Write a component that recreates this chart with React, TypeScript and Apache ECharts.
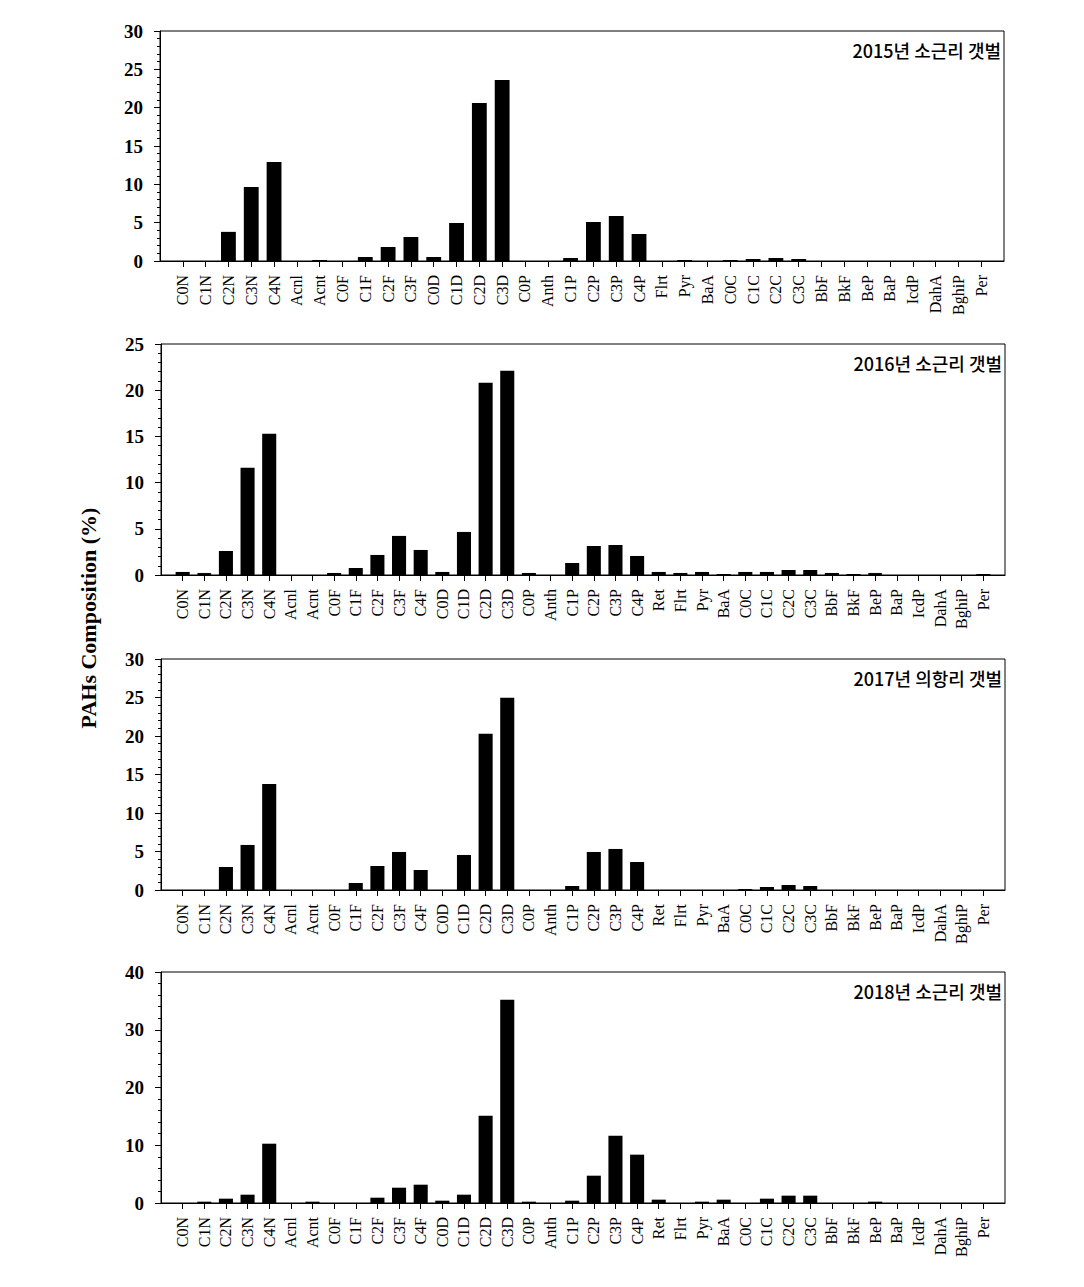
import React, { useEffect, useRef } from "react";
import * as echarts from "echarts";

const cats2015 = ["C0N","C1N","C2N","C3N","C4N","Acnl","Acnt","C0F","C1F","C2F","C3F","C0D","C1D","C2D","C3D","C0P","Anth","C1P","C2P","C3P","C4P","Flrt","Pyr","BaA","C0C","C1C","C2C","C3C","BbF","BkF","BeP","BaP","IcdP","DahA","BghiP","Per"];
const catsFull = ["C0N","C1N","C2N","C3N","C4N","Acnl","Acnt","C0F","C1F","C2F","C3F","C4F","C0D","C1D","C2D","C3D","C0P","Anth","C1P","C2P","C3P","C4P","Ret","Flrt","Pyr","BaA","C0C","C1C","C2C","C3C","BbF","BkF","BeP","BaP","IcdP","DahA","BghiP","Per"];

const values2015 = [0,0,3.8,9.65,12.9, 0,0.13, 0,0.52,1.83,3.13, 0.52,4.96,20.6,23.6, 0,0,0.39,5.09,5.87,3.52, 0,0.13,0, 0.13,0.26,0.39,0.26, 0,0,0,0, 0,0,0,0];
const values2016 = [0.33,0.22,2.6,11.6,15.28, 0,0, 0.22,0.76,2.17,4.23,2.71, 0.33,4.66,20.8,22.1, 0.22,0,1.3,3.14,3.25,2.06, 0.33,0.22,0.33,0.11, 0.33,0.33,0.54,0.54, 0.22,0.11,0.22,0, 0,0,0,0.11];
const values2017 = [0,0,2.99,5.85,13.78, 0,0, 0,0.91,3.12,4.94,2.6, 0,4.55,20.29,24.97, 0,0,0.52,4.94,5.33,3.64, 0,0,0,0, 0.13,0.39,0.65,0.52, 0,0,0,0, 0,0,0,0];
const values2018 = [0,0.23,0.75,1.44,10.27, 0,0.23, 0,0,0.92,2.65,3.17, 0.4,1.44,15.1,35.2, 0.23,0,0.4,4.73,11.66,8.37, 0.58,0,0.23,0.58, 0,0.75,1.27,1.27, 0,0,0.23,0, 0,0,0,0];

const hollow2016 = ["C1N", "BeP"];

const panelTitles = ["2015년 소근리 갯벌", "2016년 소근리 갯벌", "2017년 의항리 갯벌", "2018년 소근리 갯벌"];
const yMax = [30, 25, 30, 40];
const yInterval = [5, 5, 5, 10];
const yAxisTitle = "PAHs Composition (%)";

const panels = [
  { cats: cats2015, vals: values2015, hollow: [] as string[], grid: { left: 160, top: 31, width: 844, height: 230 } },
  { cats: catsFull, vals: values2016, hollow: hollow2016, grid: { left: 161, top: 344, width: 844, height: 231 } },
  { cats: catsFull, vals: values2017, hollow: [] as string[], grid: { left: 161, top: 659, width: 844, height: 231 } },
  { cats: catsFull, vals: values2018, hollow: [] as string[], grid: { left: 161, top: 972, width: 844, height: 231 } },
];

const SERIF = "'Liberation Serif', 'Times New Roman', serif";

export default function App() {
  const ref = useRef<HTMLDivElement>(null);
  useEffect(() => {
    if (!ref.current) return;
    const chart = echarts.init(ref.current, undefined, { renderer: "svg" });
    const grids: any[] = [];
    const xAxes: any[] = [];
    const yAxes: any[] = [];
    const series: any[] = [];
    const graphics: any[] = [];
    panels.forEach((p, i) => {
      const padded = ["", ...p.cats, ""];
      const n = padded.length;
      grids.push({
        ...p.grid,
        show: true,
        borderColor: "#000",
        borderWidth: 1,
        backgroundColor: "transparent",
        containLabel: false,
      });
      xAxes.push({
        type: "category",
        gridIndex: i,
        data: padded,
        boundaryGap: false,
        axisLine: { show: true, lineStyle: { color: "#000", width: 1 } },
        axisTick: {
          show: true,
          inside: false,
          length: 6,
          interval: (idx: number) => idx > 0 && idx < n - 1,
          lineStyle: { color: "#000" },
        },
        axisLabel: {
          interval: 0,
          rotate: 90,
          margin: 14,
          fontFamily: SERIF,
          fontSize: 16,
          color: "#000",
        },
        splitLine: { show: false },
      });
      yAxes.push({
        type: "value",
        gridIndex: i,
        min: 0,
        max: yMax[i],
        interval: yInterval[i],
        axisLine: { show: true, lineStyle: { color: "#000", width: 1 } },
        axisTick: { show: true, inside: false, length: 6, lineStyle: { color: "#000" } },
        minorTick: { show: true, splitNumber: 5, length: 3, lineStyle: { color: "#000" } },
        axisLabel: {
          margin: 17,
          fontFamily: SERIF,
          fontSize: 19,
          fontWeight: "bold",
          color: "#000",
        },
        splitLine: { show: false },
        minorSplitLine: { show: false },
      });
      const data = padded.map((c, k) => {
        if (k === 0 || k === n - 1) return null;
        const v = p.vals[k - 1];
        if (p.hollow.includes(c)) {
          return { value: v, itemStyle: { color: "#fff", borderColor: "#000", borderWidth: 1 } };
        }
        return v;
      });
      series.push({
        type: "bar",
        xAxisIndex: i,
        yAxisIndex: i,
        data,
        barWidth: "65%",
        itemStyle: { color: "#000" },
        silent: true,
      });
      graphics.push({
        type: "text",
        x: p.grid.left + p.grid.width - 3,
        y: p.grid.top + 10,
        style: {
          text: panelTitles[i],
          align: "right",
          verticalAlign: "top",
          font: "500 18px 'Noto Sans CJK KR', sans-serif",
          fill: "#000",
        },
      });
    });
    graphics.push({
      type: "text",
      x: 88,
      y: 618,
      rotation: Math.PI / 2,
      style: {
        text: yAxisTitle,
        align: "center",
        verticalAlign: "middle",
        font: "bold 22px 'Liberation Serif', 'Times New Roman', serif",
        fill: "#000",
      },
    });
    chart.setOption({
      animation: false,
      backgroundColor: "#fff",
      grid: grids,
      xAxis: xAxes,
      yAxis: yAxes,
      series,
      graphic: graphics,
    });
    return () => chart.dispose();
  }, []);
  return (
    <div
      ref={ref}
      style={{ position: "absolute", left: 0, top: 0, width: 1084, height: 1287 }}
    />
  );
}
